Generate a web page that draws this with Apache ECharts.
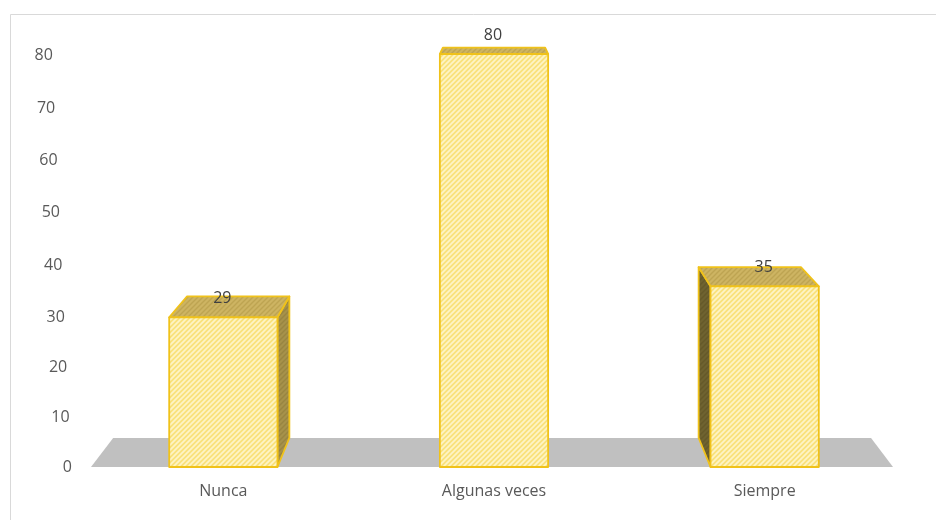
<!DOCTYPE html>
<html>
<head>
<meta charset="utf-8">
<script src="https://cdn.jsdelivr.net/npm/echarts@6/dist/echarts.min.js"></script>
<style>
  html, body { margin: 0; padding: 0; background: #ffffff; }
  #chart { width: 936px; height: 520px; }
</style>
</head>
<body>
<div id="chart"></div>
<script>
// Data
const categories = ['Nunca', 'Algunas veces', 'Siempre'];
const values = [29, 80, 35];
const yTicks = [0, 10, 20, 30, 40, 50, 60, 70, 80];

// Look and feel
const FONT = 'Open Sans';
const AXIS_TEXT = '#595959';
const VALUE_TEXT = '#404040';
const EDGE = '#F0C21A';
const DEPTH = 0.055;          // how far back faces recede toward the vanishing point
const BAR_RATIO = 0.4;        // bar width as a share of the category band
// small vertical nudges of the value-axis labels (perspective of the back wall)
const tickNudge = [0, 2.5, 4, 5, 4.5, 4, 3, 2.5, 1];
const tickSlant = 0.24;       // labels drift left as they climb the wall

function hatch(base, stripe, size, lw) {
  const c = document.createElement('canvas');
  c.width = c.height = size;
  const g = c.getContext('2d');
  g.fillStyle = base;
  g.fillRect(0, 0, size, size);
  g.strokeStyle = stripe;
  g.lineWidth = lw;
  g.beginPath();
  g.moveTo(-1, size + 1); g.lineTo(size + 1, -1);
  g.moveTo(-1, 1); g.lineTo(1, -1);
  g.moveTo(size - 1, size + 1); g.lineTo(size + 1, size - 1);
  g.stroke();
  return { image: c, repeat: 'repeat' };
}

const frontFill = hatch('#F9E27C', '#FEF4C6', 5, 1.7);
const topFill = hatch('#CDB462', '#BDA452', 5, 1.4);
const sideLightFill = hatch('#A6924A', '#988442', 5, 1.4);
const sideDarkFill = hatch('#6F6330', '#65592A', 5, 1.4);

function vanishing(cs) {
  return [cs.x + cs.width / 2, cs.y - cs.height * 0.28];
}

function renderFloor(params, api) {
  const cs = params.coordSys;
  const vp = vanishing(cs);
  const y = api.coord([0, 0])[1];
  const back = p => [p[0] + DEPTH * (vp[0] - p[0]), p[1] + DEPTH * (vp[1] - p[1])];
  const fl = [cs.x + 3, y], fr = [cs.x + cs.width - 7, y];
  return {
    type: 'polygon',
    shape: { points: [fl, fr, back(fr), back(fl)] },
    style: { fill: '#C0C0C0' },
    silent: true
  };
}

function renderBar(params, api) {
  const cs = params.coordSys;
  const i = api.value(0);
  const v = api.value(1);
  const top = api.coord([i, v]);
  const base = api.coord([i, 0]);
  const w = api.size([1, 0])[0] * BAR_RATIO;
  const vp = vanishing(cs);
  const back = p => [p[0] + DEPTH * (vp[0] - p[0]), p[1] + DEPTH * (vp[1] - p[1])];
  const x0 = top[0] - w / 2, x1 = top[0] + w / 2;
  const ftl = [x0, top[1]], ftr = [x1, top[1]];
  const fbl = [x0, base[1]], fbr = [x1, base[1]];
  const edge = { stroke: EDGE, lineWidth: 1.8, lineJoin: 'round' };
  const children = [];
  if (x1 < vp[0]) {
    children.push({
      type: 'polygon',
      shape: { points: [ftr, fbr, back(fbr), back(ftr)] },
      style: Object.assign({ fill: sideLightFill }, edge)
    });
  }
  if (x0 > vp[0]) {
    children.push({
      type: 'polygon',
      shape: { points: [ftl, fbl, back(fbl), back(ftl)] },
      style: Object.assign({ fill: sideDarkFill }, edge)
    });
  }
  children.push({
    type: 'polygon',
    shape: { points: [ftl, ftr, back(ftr), back(ftl)] },
    style: Object.assign({ fill: topFill }, edge)
  });
  children.push({
    type: 'rect',
    shape: { x: x0, y: top[1], width: w, height: base[1] - top[1] },
    style: Object.assign({ fill: frontFill }, edge)
  });
  children.push({
    type: 'text',
    x: top[0] - 1,
    y: top[1] - 19,
    style: {
      text: String(v),
      fontFamily: FONT,
      fontSize: 16,
      fill: VALUE_TEXT,
      align: 'center',
      verticalAlign: 'middle'
    }
  });
  return { type: 'group', children };
}

const rich = {};
yTicks.forEach((t, j) => {
  rich['t' + j] = {
    fontFamily: FONT,
    fontSize: 16,
    color: AXIS_TEXT,
    padding: [2 * tickNudge[j], t * tickSlant, 0, 0]
  };
});

const chart = echarts.init(document.getElementById('chart'), null, { renderer: 'canvas' });
chart.setOption({
  animation: false,
  backgroundColor: '#ffffff',
  graphic: [{
    type: 'rect',
    left: 8, top: 12,
    shape: { x: 0.5, y: 0.5, width: 960, height: 540 },
    style: { fill: 'none', stroke: '#D9D9D9', lineWidth: 1 },
    z: -10,
    silent: true
  }],
  grid: { left: 88, right: 36, top: 54, bottom: 53, containLabel: false },
  xAxis: {
    type: 'category',
    data: categories,
    axisLine: { show: false },
    axisTick: { show: false },
    splitLine: { show: false },
    axisLabel: { margin: 16, fontFamily: FONT, fontSize: 16, color: AXIS_TEXT }
  },
  yAxis: {
    type: 'value',
    min: 0,
    max: yTicks[yTicks.length - 1],
    interval: 10,
    axisLine: { show: false },
    axisTick: { show: false },
    splitLine: { show: false },
    axisLabel: {
      margin: 16,
      formatter: v => '{t' + yTicks.indexOf(v) + '|' + v + '}',
      rich: rich
    }
  },
  series: [
    {
      type: 'custom',
      name: 'floor',
      renderItem: renderFloor,
      data: [[0, 0]],
      z: 1,
      silent: true
    },
    {
      type: 'custom',
      name: 'valores',
      renderItem: renderBar,
      encode: { x: 0, y: 1 },
      data: values.map((v, i) => [i, v]),
      z: 2
    }
  ]
});
</script>
</body>
</html>
